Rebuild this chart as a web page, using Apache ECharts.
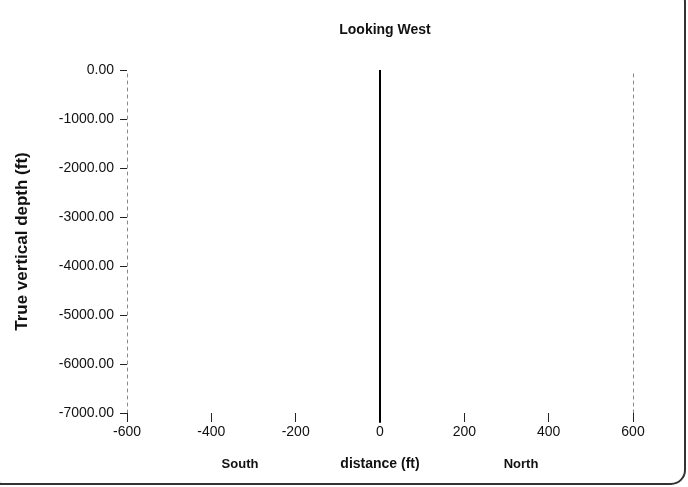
<!DOCTYPE html>
<html>
<head>
<meta charset="utf-8">
<script src="https://cdn.jsdelivr.net/npm/echarts@6/dist/echarts.min.js"></script>
<style>
html, body { margin: 0; padding: 0; background: #fff; }
#chart { width: 688px; height: 487px; }
</style>
</head>
<body>
<div id="chart"></div>
<script>
// well path, looking west (distance ft, tvd ft)
var distance = [0, 0];
var depth = [0, -7200];
var xTicks = [-600, -400, -200, 0, 200, 400, 600];
var yTicks = [0, -1000, -2000, -3000, -4000, -5000, -6000, -7000];

var pts = [];
for (var i = 0; i < distance.length; i++) {
	pts.push([distance[i], depth[i]]);
}

var font = 'Arial, "Liberation Sans", sans-serif';
var dash = {show: true, onZero: false, lineStyle: {color: '#888', type: [3, 4], width: 1}};

var chart = echarts.init(document.getElementById('chart'));
chart.setOption({
	backgroundColor: '#fff',
	animation: false,
	title: {
		text: 'Looking West',
		left: 380, top: 18, textAlign: 'center',
		textStyle: {fontFamily: font, fontSize: 14, fontWeight: 'bold', color: '#111'}
	},
	grid: {left: 127, right: 55, top: 70, bottom: 74},
	xAxis: {
		type: 'value', min: -600, max: 600, interval: 200,
		axisLine: {show: false, onZero: false},
		axisTick: {show: true, length: 9, lineStyle: {color: '#222'}},
		axisLabel: {fontFamily: font, fontSize: 14, color: '#111', margin: 12},
		splitLine: {show: false}
	},
	yAxis: [{
		type: 'value', min: -7000, max: 0, interval: 1000,
		axisLine: dash,
		axisTick: {show: true, length: 7, lineStyle: {color: '#222'}},
		axisLabel: {
			fontFamily: font, fontSize: 14, color: '#111', margin: 13,
			formatter: function (v) { return v.toFixed(2); }
		},
		splitLine: {show: false},
		name: 'True vertical depth (ft)',
		nameLocation: 'middle', nameGap: 96, nameRotate: 90,
		nameTextStyle: {fontFamily: font, fontSize: 17, fontWeight: 'bold', color: '#111'}
	}, {
		type: 'value', min: -7000, max: 0, interval: 1000, position: 'right',
		axisLine: dash, axisTick: {show: false}, axisLabel: {show: false},
		splitLine: {show: false}
	}],
	graphic: [
		{type: 'text', x: 240, y: 464, style: {text: 'South', textAlign: 'center', textVerticalAlign: 'middle', font: 'bold 13px ' + font, fill: '#111'}},
		{type: 'text', x: 380, y: 464, style: {text: 'distance (ft)', textAlign: 'center', textVerticalAlign: 'middle', font: 'bold 14px ' + font, fill: '#111'}},
		{type: 'text', x: 521, y: 464, style: {text: 'North', textAlign: 'center', textVerticalAlign: 'middle', font: 'bold 13px ' + font, fill: '#111'}},
		{type: 'rect', shape: {x: -12, y: -12, width: 697, height: 496, r: 14}, style: {fill: 'none', stroke: '#333', lineWidth: 2}}
	],
	series: [{
		type: 'line',
		data: pts,
		clip: false,
		symbol: 'none',
		lineStyle: {color: '#000', width: 2}
	}]
});
</script>
</body>
</html>
